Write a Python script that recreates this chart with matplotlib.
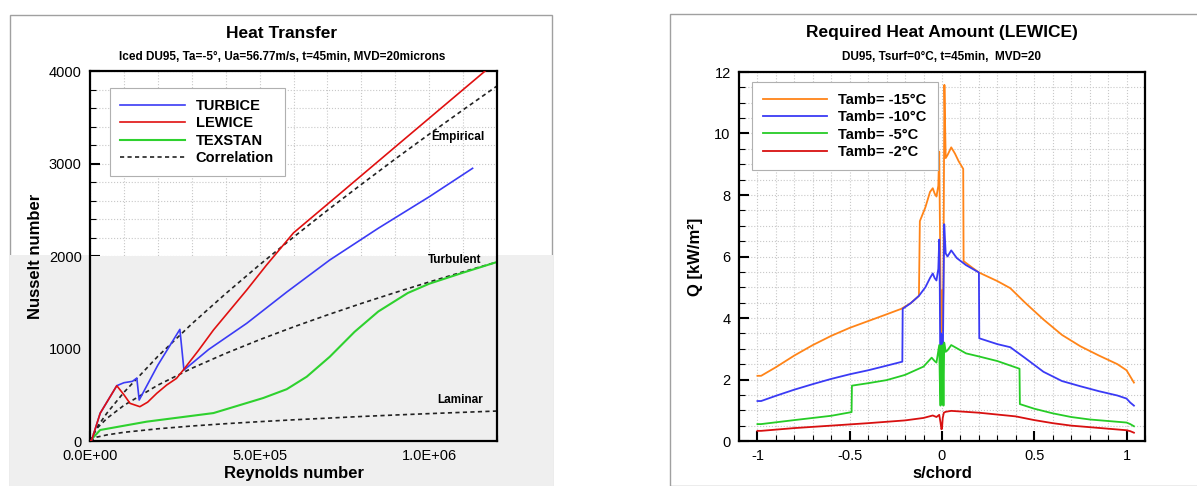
import numpy as np
import matplotlib.pyplot as plt
from matplotlib.patches import Rectangle

plt.rcParams['font.family'] = ['Liberation Sans', 'DejaVu Sans']

# ---- left chart data (Reynolds vs Nusselt) ----
re_turbice = [0, 5e3, 3e4, 7.9e4, 1.0e5, 1.25e5, 1.38e5, 1.45e5, 2.0e5, 2.65e5, 2.77e5, 3.5e5, 4.62e5, 5.8e5, 7.07e5, 8.5e5, 1.0e6, 1.128e6]
nu_turbice = [0, 10, 300, 598, 630, 645, 680, 443, 820, 1207, 767, 990, 1272, 1610, 1957, 2300, 2640, 2948]

re_lewice = [0, 5e3, 3e4, 7.9e4, 1.0e5, 1.18e5, 1.47e5, 1.7e5, 1.97e5, 2.26e5, 2.55e5, 2.75e5, 3.2e5, 3.64e5, 4.62e5, 5.2e5, 6.0e5, 7.17e5, 9.14e5, 1.165e6, 1.2e6]
nu_lewice = [0, 10, 300, 598, 500, 407, 371, 420, 516, 605, 677, 767, 980, 1200, 1632, 1900, 2250, 2612, 3223, 4000, 4110]

re_texstan = [0, 3e4, 1.67e5, 3.64e5, 5.11e5, 5.8e5, 6.39e5, 7.07e5, 7.8e5, 8.5e5, 9.37e5, 1.0e6, 1.1e6, 1.2e6]
nu_texstan = [0, 119, 209, 302, 465, 560, 695, 911, 1180, 1400, 1600, 1700, 1820, 1935]

re_corr = [0, 2e4, 5e4, 1e5, 2e5, 3e5, 4e5, 5e5, 6e5, 7e5, 8e5, 9e5, 1e6, 1.1e6, 1.2e6]
nu_empirical = [0, 145, 302, 526, 915, 1266, 1593, 1905, 2204, 2494, 2774, 3049, 3317, 3580, 3838]
nu_turbulent = [0, 135, 245, 385, 604, 786, 947, 1095, 1233, 1363, 1487, 1605, 1719, 1829, 1935]
nu_laminar = [0, 42, 66, 94, 132, 162, 187, 209, 229, 247, 265, 281, 296, 310, 324]

# ---- right chart data (s/chord vs Q) ----
s_m15 = [-1.0, -0.98, -0.9, -0.8, -0.7, -0.6, -0.5, -0.4, -0.3, -0.22, -0.17, -0.125, -0.12, -0.09, -0.065, -0.05,
         -0.04, -0.03, -0.02, -0.015, -0.012, -0.008, -0.004, 0.0, 0.004, 0.008, 0.013, 0.02, 0.03, 0.05, 0.07, 0.09,
         0.115, 0.117, 0.15, 0.2, 0.3, 0.37, 0.45, 0.55, 0.65, 0.75, 0.85, 0.95, 1.0, 1.02, 1.04]
q_m15 = [2.12, 2.12, 2.4, 2.78, 3.12, 3.42, 3.68, 3.9, 4.12, 4.3, 4.48, 4.72, 7.15, 7.6, 8.1, 8.22,
         8.05, 7.95, 8.3, 9.41, 7.5, 5.0, 3.3, 4.9, 3.6, 5.5, 11.58, 9.2, 9.3, 9.55, 9.35, 9.1,
         8.85, 5.85, 5.7, 5.48, 5.2, 4.97, 4.5, 3.95, 3.45, 3.08, 2.78, 2.5, 2.3, 2.1, 1.9]

s_m10 = [-1.0, -0.98, -0.9, -0.8, -0.7, -0.6, -0.5, -0.4, -0.3, -0.215, -0.213, -0.17, -0.125, -0.09, -0.065, -0.05,
         -0.04, -0.03, -0.02, -0.015, -0.012, -0.009, -0.005, 0.0, 0.005, 0.012, 0.02, 0.03, 0.05, 0.08, 0.13, 0.2,
         0.202, 0.3, 0.37, 0.45, 0.55, 0.65, 0.75, 0.85, 0.95, 1.0, 1.02, 1.04]
q_m10 = [1.3, 1.3, 1.47, 1.67, 1.85, 2.02, 2.17, 2.3, 2.45, 2.58, 4.3, 4.48, 4.72, 5.0, 5.3, 5.45,
         5.3, 5.22, 5.6, 6.55, 5.0, 2.1, 3.5, 3.3, 3.0, 7.05, 6.1, 6.0, 6.2, 5.95, 5.72, 5.48,
         3.34, 3.15, 3.05, 2.7, 2.25, 1.95, 1.78, 1.62, 1.48, 1.38, 1.25, 1.15]

s_m5 = [-1.0, -0.98, -0.8, -0.6, -0.49, -0.488, -0.4, -0.3, -0.2, -0.1, -0.056, -0.04, -0.03, -0.015, -0.012,
        -0.008, -0.004, 0.0, 0.004, 0.008, 0.012, 0.02, 0.03, 0.05, 0.13, 0.2, 0.3, 0.42, 0.422, 0.5, 0.6, 0.7,
        0.8, 0.9, 1.0, 1.02, 1.04]
q_m5 = [0.55, 0.55, 0.68, 0.82, 0.94, 1.8, 1.88, 1.98, 2.15, 2.42, 2.71, 2.6, 2.55, 3.12, 2.0,
        1.15, 3.1, 1.2, 3.12, 1.15, 3.2, 2.9, 2.95, 3.12, 2.85, 2.75, 2.6, 2.35, 1.2, 1.05, 0.9, 0.78,
        0.7, 0.65, 0.6, 0.55, 0.48]

s_m2 = [-1.0, -0.98, -0.8, -0.6, -0.4, -0.2, -0.1, -0.05, -0.03, -0.015, -0.008, -0.003, 0.0, 0.004, 0.01,
        0.02, 0.05, 0.1, 0.2, 0.3, 0.4, 0.5, 0.6, 0.7, 0.8, 0.9, 1.0, 1.02, 1.04]
q_m2 = [0.33, 0.33, 0.42, 0.5, 0.58, 0.67, 0.75, 0.83, 0.78, 0.85, 0.6, 0.38, 0.42, 0.75, 0.92,
        0.95, 0.98, 0.96, 0.92, 0.86, 0.8, 0.68, 0.58, 0.5, 0.45, 0.4, 0.35, 0.32, 0.27]

W, H = 1197, 486
fig = plt.figure(figsize=(W / 100, H / 100), dpi=100)

# panel frames + grey lower band on the left panel
fig.add_artist(Rectangle((10 / W, 0), 542 / W, 1 - 15 / H, transform=fig.transFigure,
                         fill=False, edgecolor='#a0a0a0', lw=1, zorder=-2))
fig.add_artist(Rectangle((670 / W, 0), 600 / W, 1 - 14 / H, transform=fig.transFigure,
                         fill=False, edgecolor='#a0a0a0', lw=1, zorder=-2))
fig.add_artist(Rectangle((10 / W, 0), 543 / W, (H - 255) / H, transform=fig.transFigure,
                         facecolor='#efefef', edgecolor='none', zorder=-1))

ax1 = fig.add_axes([90 / W, 45 / H, 407 / W, 370 / H])
ax2 = fig.add_axes([739 / W, 45 / H, 406 / W, 369 / H])


def style(ax):
    ax.set_axisbelow(True)
    ax.grid(which='both', color='#c8c8c8', ls=':', lw=0.8)
    ax.tick_params(which='both', direction='in', top=False, right=False, labelsize=10.5, pad=6)
    ax.tick_params(which='major', length=7, width=1.5)
    ax.tick_params(which='minor', length=4, width=0.8)
    for sp in ax.spines.values():
        sp.set_linewidth(1.6)


# ---- left ----
style(ax1)
ax1.axhspan(0, 2000, color='#efefef', zorder=0.6, lw=0)
dash = (0, (2.5, 2))
ax1.plot(re_turbice, nu_turbice, color='#3b3bf5', lw=1.2, label='TURBICE', zorder=3)
ax1.plot(re_lewice, nu_lewice, color='#e01010', lw=1.2, label='LEWICE', zorder=3)
ax1.plot(re_texstan, nu_texstan, color='#2ed12e', lw=1.5, label='TEXSTAN', zorder=2.5)
ax1.plot(re_corr, nu_empirical, color='#222222', ls=dash, lw=1.2, label='Correlation', zorder=2)
ax1.plot(re_corr, nu_turbulent, color='#222222', ls=dash, lw=1.2, zorder=2)
ax1.plot(re_corr, nu_laminar, color='#222222', ls=dash, lw=1.2, zorder=2)
ax1.text(1.085e6, 3290, 'Empirical', fontsize=8.5, fontweight='bold', ha='center', va='center')
ax1.text(1.075e6, 1960, 'Turbulent', fontsize=8.5, fontweight='bold', ha='center', va='center')
ax1.text(1.09e6, 445, 'Laminar', fontsize=8.5, fontweight='bold', ha='center', va='center')
ax1.set_xlim(0, 1.2e6)
ax1.set_ylim(0, 4000)
ax1.set_xticks([0, 5e5, 1e6])
ax1.set_xticklabels(['0.0E+00', '5.0E+05', '1.0E+06'])
ax1.set_xticks(np.arange(0, 1.2e6 + 1, 1e5), minor=True)
ax1.set_yticks([0, 1000, 2000, 3000, 4000])
ax1.set_yticks(np.arange(0, 4001, 200), minor=True)
ax1.set_xlabel('Reynolds number', fontsize=12, fontweight='bold', labelpad=2)
ax1.set_ylabel('Nusselt number', fontsize=12, fontweight='bold', labelpad=4)
leg1 = ax1.legend(loc='upper left', bbox_to_anchor=(0.03, 0.973), fancybox=False, edgecolor='#b0b0b0',
                  prop={'weight': 'bold', 'size': 10.5}, handlelength=4.4, handletextpad=0.75,
                  labelspacing=0.22, borderpad=0.75, framealpha=1)
leg1.get_frame().set_linewidth(0.8)
fig.text(282 / W, 1 - 33 / H, 'Heat Transfer', fontsize=12.5, fontweight='bold', ha='center', va='center')
fig.text(282 / W, 1 - 57 / H, 'Iced DU95, Ta=-5°, Ua=56.77m/s, t=45min, MVD=20microns', fontsize=8.5,
         fontweight='bold', ha='center', va='center')

# ---- right ----
style(ax2)
ax2.plot(s_m15, q_m15, color='#ff8418', lw=1.3, label='Tamb= -15°C')
ax2.plot(s_m10, q_m10, color='#3a3af5', lw=1.3, label='Tamb= -10°C')
ax2.plot(s_m5, q_m5, color='#26cc26', lw=1.3, label='Tamb= -5°C')
ax2.plot(s_m2, q_m2, color='#d81010', lw=1.3, label='Tamb= -2°C')
ax2.set_xlim(-1.1, 1.1)
ax2.set_ylim(0, 12)
ax2.set_xticks([-1, -0.5, 0, 0.5, 1])
ax2.set_xticklabels(['-1', '-0.5', '0', '0.5', '1'])
ax2.set_xticks(np.arange(-1.1, 1.101, 0.1), minor=True)
ax2.set_yticks(np.arange(0, 13, 2))
ax2.set_yticks(np.arange(0, 12.01, 0.5), minor=True)
ax2.set_xlabel('s/chord', fontsize=12, fontweight='bold', labelpad=2)
ax2.set_ylabel('Q [kW/m²]', fontsize=12, fontweight='bold', labelpad=8)
leg2 = ax2.legend(loc='upper left', bbox_to_anchor=(0.015, 0.992), fancybox=False, edgecolor='#b0b0b0',
                  prop={'weight': 'bold', 'size': 10.5}, handlelength=4.4, handletextpad=0.75,
                  labelspacing=0.22, borderpad=0.75, framealpha=1)
leg2.get_frame().set_linewidth(0.8)
fig.text(942 / W, 1 - 33 / H, 'Required Heat Amount (LEWICE)', fontsize=12.5, fontweight='bold',
         ha='center', va='center')
fig.text(942 / W, 1 - 57 / H, 'DU95, Tsurf=0°C, t=45min,  MVD=20', fontsize=8.5, fontweight='bold',
         ha='center', va='center')

fig.savefig('out.png', dpi=100)
